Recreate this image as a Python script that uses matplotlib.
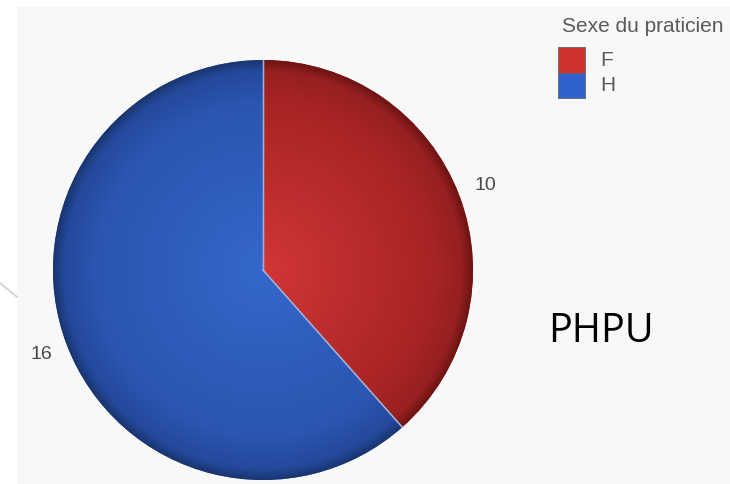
import numpy as np
import matplotlib
matplotlib.use("Agg")
import matplotlib.pyplot as plt
from matplotlib.patches import Rectangle
from matplotlib.colors import LinearSegmentedColormap

categories = ["F", "H"]
values = [10, 16]
legend_title = "Sexe du praticien"
annotation = "PHPU"

W, H = 730, 484
fig = plt.figure(figsize=(W / 100, H / 100), dpi=100)
fig.patch.set_facecolor("white")

# light gray panel
bg = fig.add_axes([17 / W, 0, 1 - 17 / W, 1 - 7 / H])
bg.set_facecolor("#f8f8f8")
bg.set_xticks([]); bg.set_yticks([])
for s in bg.spines.values():
    s.set_visible(False)

# faint decorative line at left
fig.add_artist(plt.Line2D([0, 17 / W], [1 - 283 / H, 1 - 297 / H], color="#d8d8d8", lw=1.5))

cx, cy, R = 263, H - 270, 210
ax = fig.add_axes([(cx - R) / W, (cy - R) / H, 2 * R / W, 2 * R / H])
ax.axis("off")

wedges, _ = ax.pie(values, startangle=90, counterclock=False, radius=1,
                   colors=["#c02828", "#2c58b8"],
                   wedgeprops=dict(edgecolor="none"))
ax.set_xlim(-1, 1); ax.set_ylim(-1, 1)
ax.set_aspect("equal")

grads = [["#d23636", "#a82424", "#962020", "#6e1414"],
         ["#3567cc", "#2b55b0", "#24499c", "#1a3670"]]
yy, xx = np.mgrid[-1:1:600j, -1:1:600j]
rr = np.sqrt(xx ** 2 + yy ** 2)
for w, g in zip(wedges, grads):
    cmap = LinearSegmentedColormap.from_list("g", [(0, g[0]), (0.8, g[1]), (0.95, g[2]), (1.0, g[3])])
    im = ax.imshow(rr, extent=[-1, 1, -1, 1], origin="lower", cmap=cmap, vmin=0, vmax=1, zorder=1)
    im.set_clip_path(w)
    w.set_zorder(0)

# thin light separator lines
for w in wedges:
    for ang in (w.theta1, w.theta2):
        a = np.deg2rad(ang)
        ax.plot([0, np.cos(a)], [0, np.sin(a)], color="#a8b4d8", lw=1.0, zorder=2, alpha=0.8)

# value labels
for w, v in zip(wedges, values):
    a = np.deg2rad((w.theta1 + w.theta2) / 2)
    ax.text(1.13 * np.cos(a), 1.13 * np.sin(a), str(v), ha="center", va="center",
            fontsize=14, color="#4a4a4a", family="Liberation Sans", zorder=3, clip_on=False)

# legend
fig.text(562 / W, 1 - 26 / H, legend_title, fontsize=15, color="#5a5a5a", va="center", ha="left",
         family="Liberation Sans")
colors_leg = ["#d03232", "#2f62cc"]
for i, (c, lab) in enumerate(zip(categories, colors_leg)):
    y0 = 47 + i * 25.5
    fig.add_artist(Rectangle((558 / W, 1 - (y0 + 25.5) / H), 27 / W, 25.5 / H, facecolor=lab,
                             edgecolor="#666666", lw=0.6, transform=fig.transFigure))
    fig.text(600 / W, 1 - (y0 + 13) / H, c, fontsize=15, color="#5a5a5a", va="center", ha="left",
             family="Liberation Sans")

fig.text(548 / W, 1 - 332 / H, annotation, fontsize=28.5, color="black", va="center", ha="left",
         family="Open Sans")

fig.savefig("out.png", dpi=100, facecolor=fig.get_facecolor())
